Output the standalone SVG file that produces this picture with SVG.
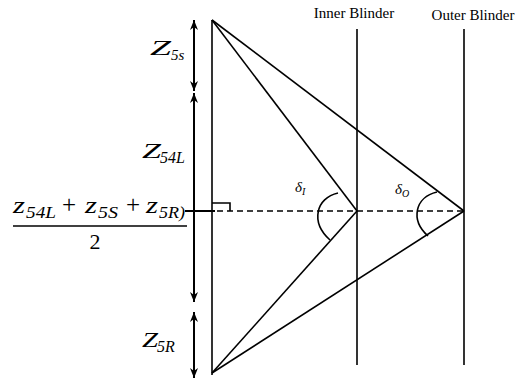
<svg xmlns="http://www.w3.org/2000/svg" width="515" height="385" viewBox="0 0 515 385">
<style>
.ln{stroke:#000;stroke-width:1.6;fill:none}
.ar{stroke:#000;stroke-width:2;fill:none}
.dash{stroke:#000;stroke-width:1.5;stroke-dasharray:6 4;fill:none}
.m{font-family:"Liberation Serif","DejaVu Serif",serif;font-style:italic;fill:#000}
.t{font-family:"Liberation Serif","DejaVu Serif",serif;fill:#000;font-size:15px}
.n{font-family:"Liberation Serif","DejaVu Serif",serif;fill:#000}
</style>
<defs>
<marker id="ah" viewBox="0 0 10 10" refX="10" refY="5" markerWidth="10" markerHeight="10" markerUnits="userSpaceOnUse" orient="auto-start-reverse">
<path d="M0,1 L10,5 L0,9 L3,5 Z" fill="#000"/>
</marker>
</defs>
<g id="connectors">
<line class="ar" x1="194" y1="20" x2="194" y2="91" marker-start="url(#ah)" marker-end="url(#ah)"/>
<line class="ar" x1="194" y1="93" x2="194" y2="302" marker-start="url(#ah)" marker-end="url(#ah)"/>
<line class="ar" x1="194" y1="312" x2="194" y2="378" marker-start="url(#ah)" marker-end="url(#ah)"/>
<line class="ln" x1="212" y1="20" x2="212" y2="375"/>
<line class="ln" x1="212" y1="20" x2="357" y2="211"/>
<line class="ln" x1="212" y1="20" x2="464" y2="211"/>
<line class="ln" x1="212" y1="373" x2="357" y2="211"/>
<line class="ln" x1="212" y1="373" x2="464" y2="211"/>
<line class="ar" x1="185" y1="211" x2="215" y2="211"/>
<line class="dash" x1="217" y1="211" x2="464" y2="211"/>
<path class="ln" d="M212,203 L230,203 L230,211"/>
<path class="ln" d="M338,193 C316,198 310,222 330,240"/>
<path class="ln" d="M437,192 C415,197 410,220 428,236"/>
</g>
<g id="inner-blinder">
<line class="ln" x1="357" y1="29" x2="357" y2="365"/>
<text class="t" x="354" y="18" text-anchor="middle">Inner Blinder</text>
</g>
<g id="outer-blinder">
<line class="ln" x1="464" y1="29" x2="464" y2="365"/>
<text class="t" x="473" y="20" text-anchor="middle">Outer Blinder</text>
</g>
<g id="label-z5s">
<text class="m" x="150" y="55" font-size="22" textLength="21" lengthAdjust="spacingAndGlyphs">Z</text>
<text class="m" x="171" y="60" font-size="15">5s</text>
</g>
<g id="label-z54l">
<text class="m" x="142" y="158" font-size="22" textLength="19" lengthAdjust="spacingAndGlyphs">Z</text>
<text class="m" x="160" y="163" font-size="16">54L</text>
</g>
<g id="label-z5r">
<text class="m" x="142" y="347" font-size="22" textLength="16" lengthAdjust="spacingAndGlyphs">Z</text>
<text class="m" x="157" y="352" font-size="16">5R</text>
</g>
<g id="fraction">
<text class="m" x="13" y="213" font-size="23" textLength="12" lengthAdjust="spacingAndGlyphs">z</text>
<text class="m" x="26" y="218" font-size="17" textLength="30" lengthAdjust="spacingAndGlyphs">54L</text>
<text class="n" x="62" y="213" font-size="25">+</text>
<text class="m" x="85" y="213" font-size="23" textLength="12" lengthAdjust="spacingAndGlyphs">z</text>
<text class="m" x="98" y="218" font-size="17" textLength="20" lengthAdjust="spacingAndGlyphs">5S</text>
<text class="n" x="126" y="213" font-size="25">+</text>
<text class="m" x="146" y="213" font-size="23" textLength="12" lengthAdjust="spacingAndGlyphs">z</text>
<text class="m" x="159" y="218" font-size="17" textLength="26" lengthAdjust="spacingAndGlyphs">5R)</text>
<line x1="13" y1="226" x2="187" y2="226" stroke="#000" stroke-width="1.5"/>
<text class="n" x="95" y="249" font-size="22" text-anchor="middle">2</text>
</g>
<g id="angle-labels">
<text class="m" x="295" y="192" font-size="15">δ<tspan font-size="10" dy="3">I</tspan></text>
<text class="m" x="395" y="194" font-size="15">δ<tspan font-size="10" dy="3">O</tspan></text>
</g>
</svg>
